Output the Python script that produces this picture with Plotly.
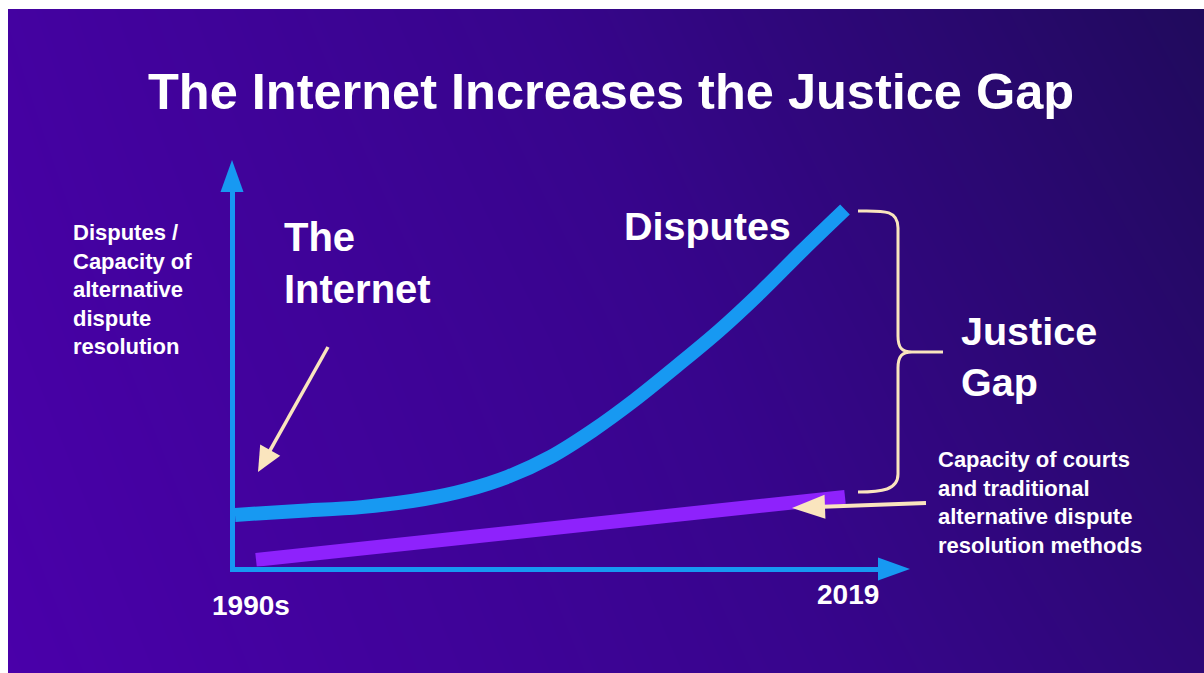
import plotly.graph_objects as go

W, H = 1204, 673

# ---------------- data (schematic index values) ----------------
years_disputes = [1990, 1993, 1996, 1999, 2001, 2003, 2005, 2007, 2009, 2011, 2013, 2015, 2017, 2019]
disputes = [17.7, 19.0, 20.3, 23.0, 26.0, 30.5, 37.0, 45.8, 56.0, 67.3, 79.0, 92.0, 106.0, 119.5]
years_capacity = [1991, 2019]
capacity = [2.7, 23.7]
x_tick_labels = ["1990s", "2019"]

# ---------------- colours ----------------
BLUE = "#1799F2"
VIOLET = "#8E22FC"
CREAM = "#FAE5BE"
WHITE = "#FFFFFF"
FONT = "Liberation Sans, Arial, Helvetica, sans-serif"


def px(x):
    return x / W


def py(y):
    return 1 - y / H


fig = go.Figure()

# background gradient (decorative) on its own full-page subplot
bg_x = [0, 0.5, 1]
bg_y = [0, 0.5, 1]
bg_z = [[0.00, 0.36, 0.72],
        [0.08, 0.44, 0.86],
        [0.15, 0.55, 1.00]]
fig.add_trace(go.Heatmap(
    z=bg_z, x=bg_x, y=bg_y,
    colorscale=[[0, "#4A00AA"], [0.5, "#37058C"], [1, "#200A5C"]],
    zmin=0, zmax=1,
    zsmooth="best", showscale=False, hoverinfo="skip",
    xaxis="x", yaxis="y",
))

# data traces
fig.add_trace(go.Scatter(
    x=years_capacity, y=capacity, mode="lines",
    line=dict(color=VIOLET, width=14), hoverinfo="skip",
    xaxis="x2", yaxis="y2", showlegend=False,
))
fig.add_trace(go.Scatter(
    x=years_disputes, y=disputes, mode="lines",
    line=dict(color=BLUE, width=14, shape="spline", smoothing=1.0), hoverinfo="skip",
    xaxis="x2", yaxis="y2", showlegend=False,
))

# axis geometry (pixels)
dom_left, dom_right = 234.5, 900
dom_bottom, dom_top = 566.5, 170
k = 21.034  # px per year
x_rng = [1990 + (dom_left - 235) / k, 1990 + (dom_right - 235) / k]
y_rng = [(568 - dom_bottom) / 3, (568 - dom_top) / 3]

shapes = [
    # white page margin strips (top and left), as in the reference
    dict(type="rect", xref="paper", yref="paper", x0=0, x1=1, y0=py(9), y1=1,
         fillcolor="white", line=dict(width=0), layer="above"),
    dict(type="rect", xref="paper", yref="paper", x0=0, x1=px(8), y0=0, y1=1,
         fillcolor="white", line=dict(width=0), layer="above"),
]


def tri(tip, hl, hw, color, direction):
    tx, ty = tip
    dx, dy = direction
    n = (dx * dx + dy * dy) ** 0.5
    ux, uy = dx / n, dy / n
    bx, by = tx - ux * hl, ty - uy * hl
    nx, ny = -uy, ux
    p1 = (bx + nx * hw / 2, by + ny * hw / 2)
    p2 = (bx - nx * hw / 2, by - ny * hw / 2)
    path = "M {},{} L {},{} L {},{} Z".format(px(tx), py(ty), px(p1[0]), py(p1[1]), px(p2[0]), py(p2[1]))
    shapes.append(dict(type="path", xref="paper", yref="paper", path=path,
                       fillcolor=color, line=dict(width=0), layer="above"))
    return bx, by, ux, uy


def arrow(tail, tip, lw, hl, hw, color):
    bx, by, ux, uy = tri(tip, hl, hw, color, (tip[0] - tail[0], tip[1] - tail[1]))
    shapes.append(dict(type="line", xref="paper", yref="paper",
                       x0=px(tail[0]), y0=py(tail[1]), x1=px(bx + ux * 2), y1=py(by + uy * 2),
                       line=dict(color=color, width=lw), layer="above"))


# axis arrowheads
tri((232, 160), 32, 23, BLUE, (0, -1))
tri((910, 569), 32, 23, BLUE, (1, 0))

# annotation arrows
arrow((328, 347), (258, 472), 3.5, 25, 23, CREAM)
arrow((926, 503), (792, 508), 4, 33, 24, CREAM)

# curly brace
pts = [
    ("M", [(858, 211)]),
    ("C", [(882, 211), (898, 209), (898, 228)]),
    ("L", [(898, 336)]),
    ("C", [(898, 348), (902, 352), (912, 352)]),
    ("L", [(943, 352)]),
    ("M", [(912, 352)]),
    ("C", [(902, 352), (898, 356), (898, 368)]),
    ("L", [(898, 474)]),
    ("C", [(898, 490), (882, 492), (858, 492)]),
]
path = " ".join(cmd + " " + " ".join("{:.5f},{:.5f}".format(px(a), py(b)) for a, b in p) for cmd, p in pts)
shapes.append(dict(type="path", xref="paper", yref="paper", path=path,
                   line=dict(color=CREAM, width=3), layer="above"))


def text(s, x, y, size, anchor="left"):
    return dict(text=s, x=px(x), y=py(y), xref="paper", yref="paper",
                xanchor=anchor, yanchor="middle", showarrow=False, align="left",
                font=dict(family=FONT, size=size, color=WHITE))


annotations = [
    text("<b>The Internet Increases the Justice Gap</b>", 611, 92, 50.5, "center"),
    text("<b>Disputes /<br>Capacity of<br>alternative<br>dispute<br>resolution</b>", 71, 289, 22),
    text("<b>The<br>Internet</b>", 282, 263, 40),
    text("<b>Disputes</b>", 622, 226, 39.5),
    text("<b>Justice<br>Gap</b>", 959, 356, 39.5),
    text("<b>Capacity of courts<br>and traditional<br>alternative dispute<br>resolution methods</b>", 936, 502, 22),
    text("<b>" + x_tick_labels[0] + "</b>", 210, 605, 28),
    text("<b>" + x_tick_labels[1] + "</b>", 815, 594, 28),
]

hidden = dict(visible=False, showgrid=False, zeroline=False)
fig.update_layout(
    width=W, height=H,
    margin=dict(l=0, r=0, t=0, b=0),
    paper_bgcolor="#3A0592", plot_bgcolor="rgba(0,0,0,0)",
    showlegend=False,
    xaxis=dict(domain=[0, 1], range=[0, 1], **hidden),
    yaxis=dict(domain=[0, 1], range=[0, 1], **hidden),
    xaxis2=dict(domain=[px(dom_left), px(dom_right)], range=x_rng, anchor="y2",
                showgrid=False, zeroline=False, showticklabels=False, ticks="",
                showline=True, linecolor=BLUE, linewidth=5),
    yaxis2=dict(domain=[py(dom_bottom), py(dom_top)], range=y_rng, anchor="x2",
                showgrid=False, zeroline=False, showticklabels=False, ticks="",
                showline=True, linecolor=BLUE, linewidth=5),
    shapes=shapes,
    annotations=annotations,
)

fig.write_html("out.html", config={"displayModeBar": False})
